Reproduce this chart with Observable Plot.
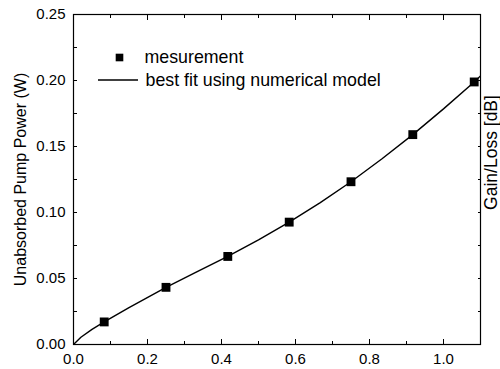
<!DOCTYPE html>
<html>
<head>
<meta charset="utf-8">
<script src="https://cdn.jsdelivr.net/npm/d3@7"></script>
<script src="https://cdn.jsdelivr.net/npm/@observablehq/plot@0.6"></script>
<style>
html,body{margin:0;padding:0;background:#fff;}
</style>
</head>
<body>
<div id="chart"></div>
<script>
// Measured data
const measX = [0.083, 0.25, 0.417, 0.583, 0.75, 0.917, 1.083];
const measY = [0.0171, 0.0433, 0.0667, 0.0927, 0.1233, 0.159, 0.1989];

// Best-fit numerical model curve
const fitX = [0, 0.02, 0.05, 0.083, 0.15, 0.25, 0.333, 0.417, 0.5, 0.583, 0.667, 0.75, 0.833, 0.917, 1.0, 1.083, 1.1];
const fitY = [0, 0.0055, 0.0115, 0.0171, 0.028, 0.0433, 0.055, 0.0667, 0.0793, 0.0927, 0.1075, 0.1233, 0.1405, 0.159, 0.1785, 0.1989, 0.2035];

// Ticks
const xMajor = [0, 0.2, 0.4, 0.6, 0.8, 1.0];
const xMinor = [0.1, 0.3, 0.5, 0.7, 0.9];
const yMajor = [0, 0.05, 0.1, 0.15, 0.2, 0.25];
const yMinor = [0.025, 0.075, 0.125, 0.175, 0.225];

const yLabel = "Unabsorbed Pump Power (W)";
const rightLabel = "Gain/Loss [dB]";
const legendLabels = ["mesurement", "best fit using numerical model"];

const meas = measX.map((x, i) => ({x, y: measY[i]}));
const fit = fitX.map((x, i) => ({x, y: fitY[i]}));

const blank = () => "";

const legendLine = (index, scales, values, dims) => {
  const l = d3.create("svg:line")
    .attr("x1", dims.marginLeft + 25).attr("x2", dims.marginLeft + 65)
    .attr("y1", dims.marginTop + 66).attr("y2", dims.marginTop + 66)
    .attr("stroke", "#000").attr("stroke-width", 1.4);
  return l.node();
};

const chart = Plot.plot({
  width: 500,
  height: 369,
  marginLeft: 73,
  marginRight: 20,
  marginTop: 14,
  marginBottom: 25,
  style: {fontFamily: "'Liberation Sans', Arial, sans-serif", fontSize: "15px", color: "#000", background: "#fff"},
  x: {domain: [0, 1.1]},
  y: {domain: [0, 0.25]},
  marks: [
    Plot.line(fit, {x: "x", y: "y", stroke: "#000", strokeWidth: 1.4, clip: true}),
    Plot.dot(meas, {x: "x", y: "y", symbol: "square", fill: "#000", r: 5}),
    Plot.frame({stroke: "#000", strokeWidth: 1.2}),
    // bottom axis labels
    Plot.axisX(xMajor, {anchor: "bottom", tickSize: 0, tickPadding: 9, fontSize: 15, label: null, tickFormat: d => d.toFixed(1)}),
    Plot.axisX(xMajor, {anchor: "bottom", tickSize: -5, tickFormat: blank, label: null}),
    Plot.axisX(xMinor, {anchor: "bottom", tickSize: -3, tickFormat: blank, label: null}),
    Plot.axisX(xMajor, {anchor: "top", tickSize: -5, tickFormat: blank, label: null}),
    Plot.axisX(xMinor, {anchor: "top", tickSize: -3, tickFormat: blank, label: null}),
    // left axis
    Plot.axisY(yMajor, {anchor: "left", tickSize: 0, tickPadding: 8, fontSize: 15, label: null, tickFormat: d => d.toFixed(2)}),
    Plot.axisY(yMajor, {anchor: "left", tickSize: -4, tickFormat: blank, label: null}),
    Plot.axisY(yMinor, {anchor: "left", tickSize: -4, tickFormat: blank, label: null}),
    Plot.axisY(yMajor, {anchor: "right", tickSize: -3, tickFormat: blank, label: null}),
    Plot.axisY(yMinor, {anchor: "right", tickSize: -3, tickFormat: blank, label: null}),
    // axis titles
    Plot.text([yLabel], {frameAnchor: "left", textAnchor: "middle", lineAnchor: "middle", rotate: -90, dx: -53, fontSize: 16}),
    Plot.text([rightLabel], {frameAnchor: "right", textAnchor: "middle", lineAnchor: "middle", rotate: -90, dx: 10.5, dy: -27, fontSize: 17.5}),
    // legend
    Plot.dot([0], {frameAnchor: "top-left", dx: 46, dy: 43, symbol: "square", fill: "#000", r: 4.3}),
    Plot.text([legendLabels[0]], {frameAnchor: "top-left", dx: 71, dy: 43, textAnchor: "start", lineAnchor: "middle", fontSize: 17.8}),
    legendLine,
    Plot.text([legendLabels[1]], {frameAnchor: "top-left", dx: 72, dy: 66, textAnchor: "start", lineAnchor: "middle", fontSize: 17.8})
  ]
});
document.getElementById("chart").appendChild(chart);
</script>
</body>
</html>
